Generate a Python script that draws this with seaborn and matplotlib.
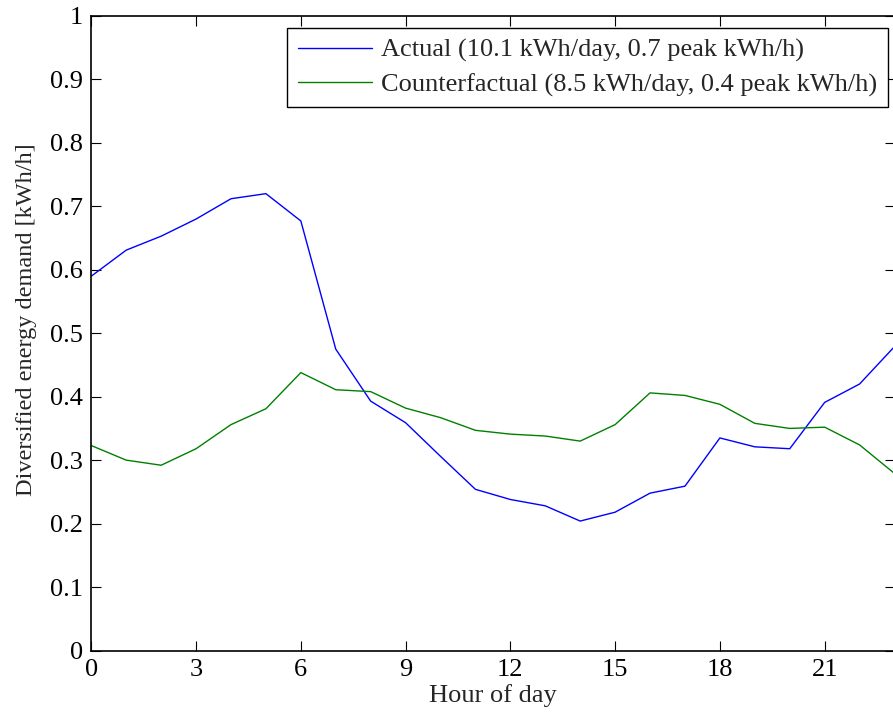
import numpy as np
import pandas as pd
import matplotlib
matplotlib.use('Agg')
import matplotlib.pyplot as plt
import seaborn as sns

# hourly diversified demand
hours = list(range(24))
actual = [0.590, 0.631, 0.653, 0.680, 0.712, 0.720, 0.677, 0.475, 0.393, 0.359,
          0.306, 0.254, 0.238, 0.228, 0.204, 0.218, 0.248, 0.259, 0.335, 0.321,
          0.318, 0.391, 0.420, 0.479]
counterfactual = [0.323, 0.300, 0.292, 0.318, 0.356, 0.381, 0.438, 0.411, 0.408, 0.382,
                  0.367, 0.347, 0.341, 0.338, 0.330, 0.356, 0.406, 0.402, 0.388, 0.358,
                  0.350, 0.352, 0.324, 0.279]
labels = ['Actual (10.1 kWh/day, 0.7 peak kWh/h)',
          'Counterfactual (8.5 kWh/day, 0.4 peak kWh/h)']
colors = ['#0000ff', '#008000']
x_ticks = [0, 3, 6, 9, 12, 15, 18, 21]
y_ticks = [0, 0.1, 0.2, 0.3, 0.4, 0.5, 0.6, 0.7, 0.8, 0.9, 1]
y_ticklabels = ['0', '0.1', '0.2', '0.3', '0.4', '0.5', '0.6', '0.7', '0.8', '0.9', '1']

# long format for seaborn
df = pd.DataFrame({
    'Hour': hours * 2,
    'Demand': actual + counterfactual,
    'Series': [labels[0]] * len(hours) + [labels[1]] * len(hours),
})

sns.set_style('ticks')
plt.rcParams['font.family'] = ['Liberation Serif', 'DejaVu Serif']
fs = 19

fig = plt.figure(figsize=(8.93, 7.18), dpi=100)
# right edge of the box sits just past the picture, like the cropped original
ax = fig.add_axes([91.3 / 893, 67.5 / 718, (894.5 - 91.3) / 893, 634.5 / 718])

sns.lineplot(data=df, x='Hour', y='Demand', hue='Series', hue_order=labels,
             palette=colors, linewidth=1.0, ax=ax)

ax.set_xlim(0, 23)
ax.set_ylim(0, 1)
ax.set_xticks(x_ticks)
ax.set_yticks(y_ticks)
ax.set_yticklabels(y_ticklabels)
ax.set_xlabel('Hour of day', fontsize=fs, labelpad=2)
ax.set_ylabel('Diversified energy demand [kWh/h]', fontsize=17.5)
ax.yaxis.set_label_coords(-0.067, 0.522)

for sp in ax.spines.values():
    sp.set_visible(True)
    sp.set_color('black')
    sp.set_linewidth(1.2)
ax.tick_params(direction='in', top=True, right=True, length=7, width=0.8,
               pad=6, labelsize=fs, colors='black')

handles, lbls = ax.get_legend_handles_labels()
ax.get_legend().remove()
leg = ax.legend(handles, lbls, loc='upper right',
                bbox_to_anchor=(887.5 / 893, 1 - 28 / 718),
                bbox_transform=fig.transFigure, borderaxespad=0,
                fancybox=False, framealpha=1, edgecolor='black',
                handlelength=2.8, handletextpad=0.35, labelspacing=0.4,
                borderpad=0.4, fontsize=fs)
leg.get_frame().set_linewidth(1.0)

fig.savefig('out.png', dpi=100)
